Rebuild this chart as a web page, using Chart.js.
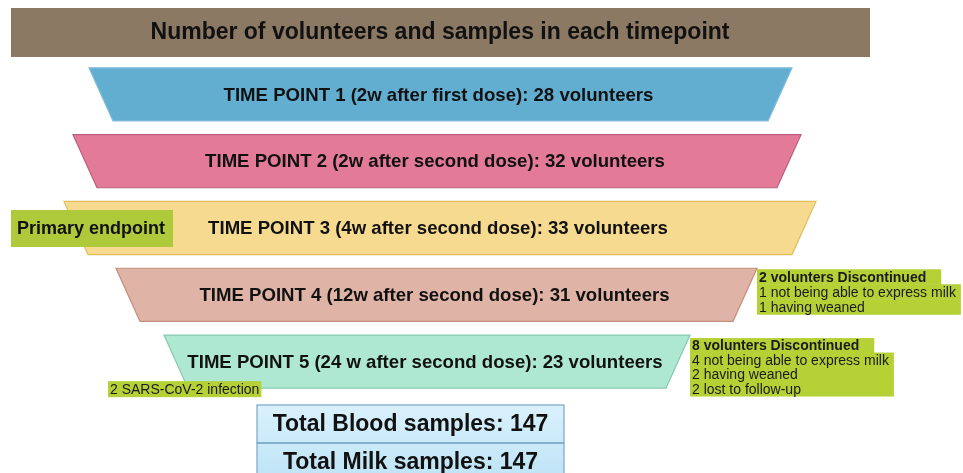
<!DOCTYPE html>
<html>
<head>
<meta charset="utf-8">
<script src="https://cdn.jsdelivr.net/npm/chart.js@4.4.1/dist/chart.umd.min.js"></script>
<style>
  html, body { margin: 0; padding: 0; background: #fff; }
  #wrap { position: relative; width: 963px; height: 473px; }
</style>
</head>
<body>
<div id="wrap"><canvas id="funnel"></canvas></div>
<script>
// ---- data ----
const chartTitle = "Number of volunteers and samples in each timepoint";
const timePoints = ["TIME POINT 1", "TIME POINT 2", "TIME POINT 3", "TIME POINT 4", "TIME POINT 5"];
const timings = ["2w after first dose", "2w after second dose", "4w after second dose",
                 "12w after second dose", "24 w after second dose"];
const volunteers = [28, 32, 33, 31, 23];
const primaryEndpoint = "Primary endpoint";
const primaryIndex = 2;
const notesTP4 = ["2 volunters Discontinued", "1 not being able to express milk", "1 having weaned"];
const notesTP5 = ["8 volunters Discontinued", "4 not being able to express milk", "2 having weaned", "2 lost to follow-up"];
const infectionNote = "2 SARS-CoV-2 infection";
const totalBlood = 147;
const totalMilk = 147;

// ---- layout / style ----
// horizontal extent of each band's top edge (x scale runs over the canvas width)
const bandSpans = [[89, 792], [73, 801], [64, 816], [116, 757], [164, 690]];
const bandColors = ["#62aed1", "#e27a98", "#f5da8f", "#dfb4a7", "#aee8d3"];
const bandBorders = ["#7fbcdc", "#b8607e", "#e2bd5a", "#c78d7d", "#86c9b0"];
const SLANT = 24;
const FONT = "'Liberation Sans', Arial, sans-serif";
const GREEN = "#b5d136";

function bandLabel(i) {
  return timePoints[i] + " (" + timings[i] + "): " + volunteers[i] + " volunteers";
}

function highlightLines(ctx, lines, x, y, lineH) {
  let widths = lines.map((t, k) => {
    ctx.font = (k === 0 ? "bold " : "") + "14px " + FONT;
    return ctx.measureText(t).width;
  });
  let restW = Math.max(...widths.slice(1)) + 7;
  ctx.fillStyle = GREEN;
  lines.forEach((t, k) => {
    let w = k === 0 ? widths[0] + 17 : restW;
    ctx.fillRect(x, y + k * lineH, w, lineH + 0.5);
  });
  ctx.fillStyle = "#1a1a1a";
  ctx.textAlign = "left";
  ctx.textBaseline = "middle";
  lines.forEach((t, k) => {
    ctx.font = (k === 0 ? "bold " : "") + "14px " + FONT;
    ctx.fillText(t, x + 2, y + k * lineH + lineH / 2 + 1);
  });
}

const funnelPlugin = {
  id: "funnel",
  afterDatasetsDraw(chart) {
    const ctx = chart.ctx;
    const xs = chart.scales.x;
    const area = chart.chartArea;
    const bars = chart.getDatasetMeta(0).data;
    ctx.save();

    // title bar
    ctx.fillStyle = "#8c7964";
    ctx.fillRect(xs.getPixelForValue(11), area.top - 53, xs.getPixelForValue(870) - xs.getPixelForValue(11), 49);
    ctx.fillStyle = "#111";
    ctx.font = "bold 23px " + FONT;
    ctx.textAlign = "center";
    ctx.textBaseline = "middle";
    ctx.fillText(chartTitle, xs.getPixelForValue(440), area.top - 28);

    // trapezoid bands
    bars.forEach((bar, i) => {
      const p = bar.getProps(["x", "y", "base", "height"], true);
      const left = Math.min(p.x, p.base), right = Math.max(p.x, p.base);
      const top = p.y - p.height / 2, bottom = p.y + p.height / 2;
      ctx.beginPath();
      ctx.moveTo(left, top);
      ctx.lineTo(right, top);
      ctx.lineTo(right - SLANT, bottom);
      ctx.lineTo(left + SLANT, bottom);
      ctx.closePath();
      ctx.fillStyle = bandColors[i];
      ctx.fill();
      ctx.strokeStyle = bandBorders[i];
      ctx.lineWidth = 1.2;
      ctx.stroke();
      ctx.fillStyle = "#111";
      ctx.font = "bold 18.6px " + FONT;
      ctx.textAlign = "center";
      ctx.textBaseline = "middle";
      ctx.fillText(bandLabel(i), (left + right) / 2 - 2, p.y + 1);
    });

    // primary endpoint tag
    const pb = bars[primaryIndex];
    ctx.fillStyle = "#aec93a";
    ctx.fillRect(11, pb.y - 18, 162, 37);
    ctx.fillStyle = "#111";
    ctx.font = "bold 18px " + FONT;
    ctx.textAlign = "center";
    ctx.fillText(primaryEndpoint, 91, pb.y + 1);

    // discontinuation notes
    const b4 = bars[3], b5 = bars[4];
    highlightLines(ctx, notesTP4, b4.x, b4.y - b4.height / 2 + 1, 15);
    highlightLines(ctx, notesTP5, b5.x, b5.y - b5.height / 2 + 3, 14.5);

    // infection note
    ctx.font = "14px " + FONT;
    const iw = ctx.measureText(infectionNote).width;
    ctx.fillStyle = GREEN;
    ctx.fillRect(108, b5.y + b5.height / 2 - 7, iw + 4, 16);
    ctx.fillStyle = "#1a1a1a";
    ctx.textAlign = "left";
    ctx.fillText(infectionNote, 110, b5.y + b5.height / 2 + 2);

    // totals box
    const bx = 257, bw = 307, rowH = 38, by = area.bottom + 10;
    const g = ctx.createLinearGradient(0, by, 0, by + 2 * rowH);
    g.addColorStop(0, "#d9f1fc");
    g.addColorStop(1, "#bde3f6");
    ctx.fillStyle = g;
    ctx.fillRect(bx, by, bw, 2 * rowH);
    ctx.strokeStyle = "#7aa6c6";
    ctx.lineWidth = 1.2;
    ctx.strokeRect(bx, by, bw, rowH);
    ctx.strokeRect(bx, by + rowH, bw, rowH);
    ctx.fillStyle = "#111";
    ctx.font = "bold 23px " + FONT;
    ctx.textAlign = "center";
    ctx.fillText("Total Blood samples: " + totalBlood, bx + bw / 2, by + rowH / 2 + 1);
    ctx.fillText("Total Milk samples: " + totalMilk, bx + bw / 2, by + rowH * 1.5 + 1);

    ctx.restore();
  }
};

new Chart(document.getElementById("funnel"), {
  type: "bar",
  data: {
    labels: timePoints,
    datasets: [{
      data: bandSpans,
      backgroundColor: "rgba(0,0,0,0)",
      borderWidth: 0,
      categoryPercentage: 1,
      barPercentage: 0.795
    }]
  },
  options: {
    indexAxis: "y",
    responsive: true,
    maintainAspectRatio: false,
    animation: false,
    layout: { padding: { top: 61, bottom: 78, left: 0, right: 0 } },
    scales: {
      x: { type: "linear", min: 0, max: 963, display: false },
      y: { display: false }
    },
    plugins: {
      legend: { display: false },
      tooltip: { enabled: false }
    }
  },
  plugins: [funnelPlugin]
});
</script>
</body>
</html>
